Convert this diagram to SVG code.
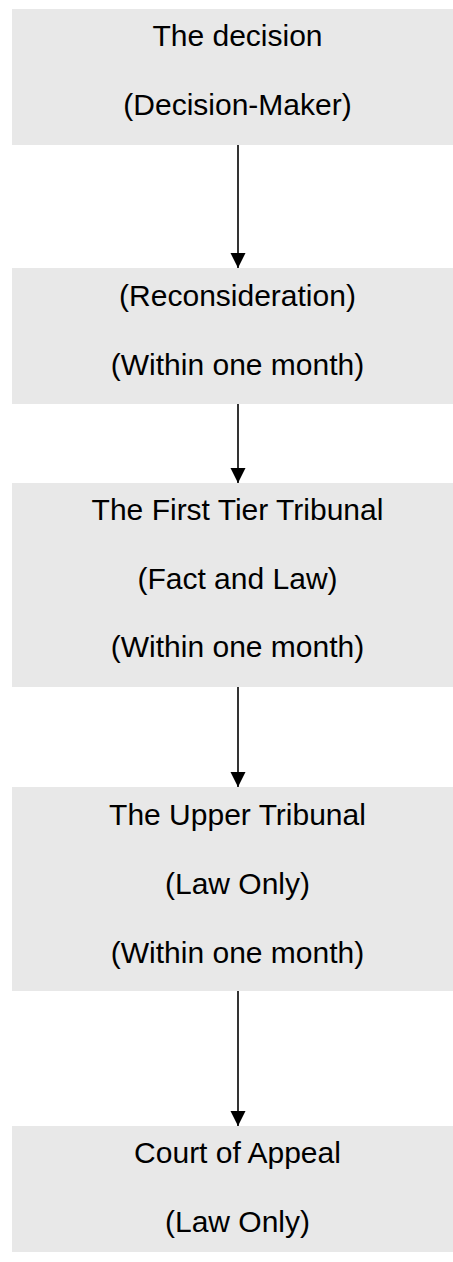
<svg xmlns="http://www.w3.org/2000/svg" width="453" height="1262" viewBox="0 0 453 1262">
<style>
.box{fill:#e8e8e8;stroke:none}
.t{font-family:"Liberation Sans",Arial,sans-serif;font-size:30px;fill:#000;text-anchor:middle}
.c{stroke:#000;stroke-width:1.6;fill:none}
</style>
<defs>
<marker id="ah" markerUnits="userSpaceOnUse" markerWidth="16" markerHeight="16" viewBox="0 0 16 16" refX="15" refY="8" orient="auto">
<polygon points="0,0.5 15,8 0,15.5" fill="#000"/>
</marker>
</defs>
<g id="connectors">
<line class="c" x1="238" y1="145" x2="238" y2="268" marker-end="url(#ah)"/>
<line class="c" x1="238" y1="404" x2="238" y2="483" marker-end="url(#ah)"/>
<line class="c" x1="238" y1="687" x2="238" y2="787" marker-end="url(#ah)"/>
<line class="c" x1="238" y1="991" x2="238" y2="1126" marker-end="url(#ah)"/>
</g>
<g id="n1">
<rect class="box" x="12" y="9" width="451" height="136"/>
<text class="t" x="237.5" y="46">The decision</text>
<text class="t" x="237.5" y="115">(Decision-Maker)</text>
</g>
<g id="n2">
<rect class="box" x="12" y="268" width="451" height="136"/>
<text class="t" x="237.5" y="306">(Reconsideration)</text>
<text class="t" x="237.5" y="375">(Within one month)</text>
</g>
<g id="n3">
<rect class="box" x="12" y="483" width="451" height="204"/>
<text class="t" x="237.5" y="519.5">The First Tier Tribunal</text>
<text class="t" x="237.5" y="588.5">(Fact and Law)</text>
<text class="t" x="237.5" y="657">(Within one month)</text>
</g>
<g id="n4">
<rect class="box" x="12" y="787" width="451" height="204"/>
<text class="t" x="237.5" y="824.5">The Upper Tribunal</text>
<text class="t" x="237.5" y="893.5">(Law Only)</text>
<text class="t" x="237.5" y="962.5">(Within one month)</text>
</g>
<g id="n5">
<rect class="box" x="12" y="1126" width="451" height="126"/>
<text class="t" x="237.5" y="1163">Court of Appeal</text>
<text class="t" x="237.5" y="1232">(Law Only)</text>
</g>
</svg>
